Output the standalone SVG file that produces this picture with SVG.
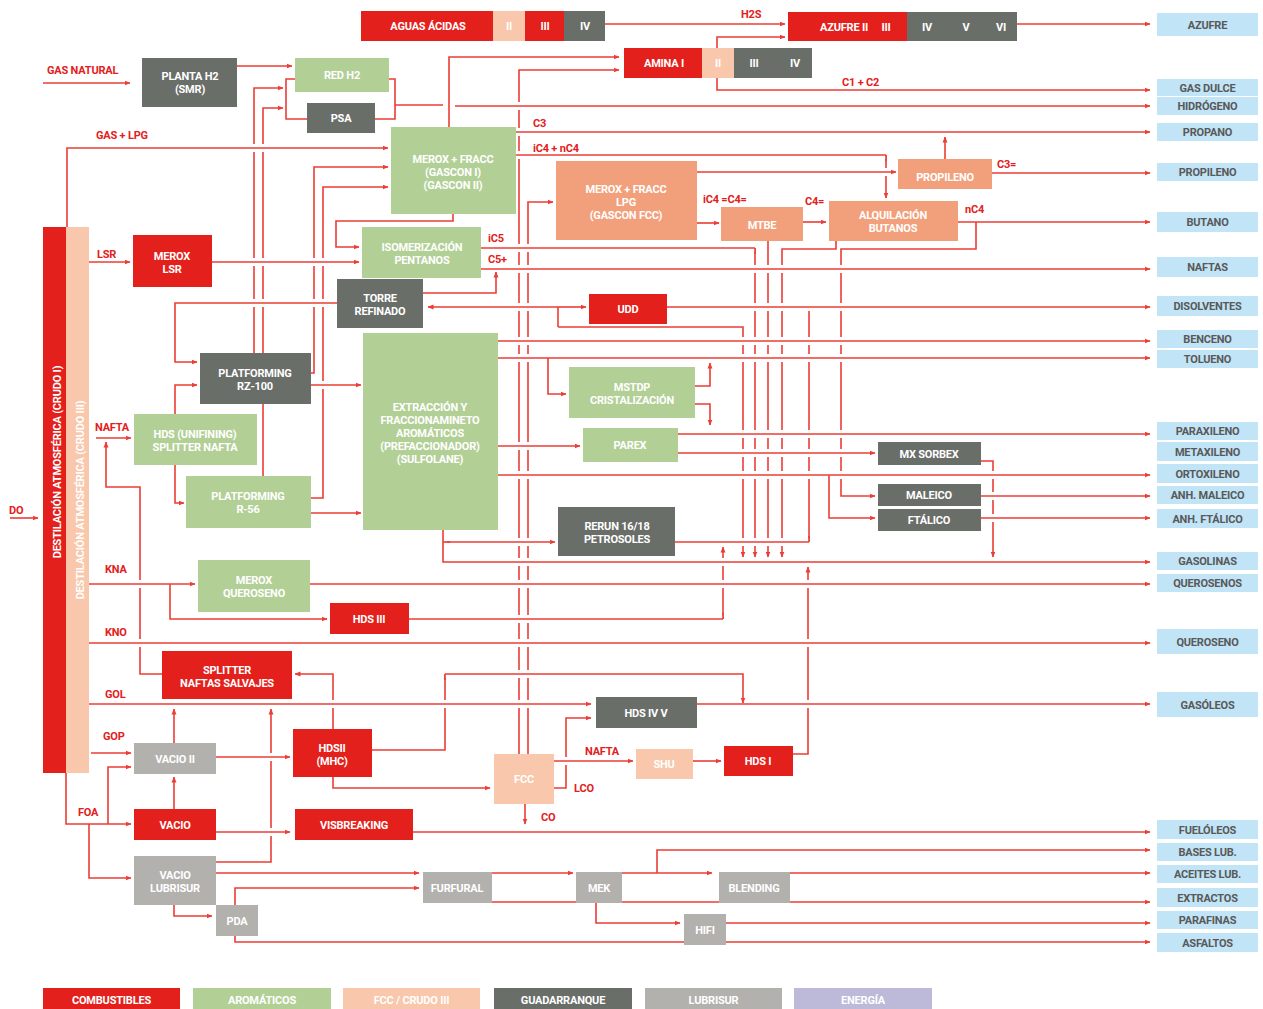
<svg xmlns="http://www.w3.org/2000/svg" width="1263" height="1009" viewBox="0 0 1263 1009">
<style>
text{font-family:Roboto,"Liberation Sans",Arial,sans-serif;font-weight:700;font-size:11px;letter-spacing:-0.2px}
.nt{fill:#fff;text-anchor:middle}
.pt{fill:#595959;text-anchor:middle}
.lb{fill:#e3201b}
.ln{fill:none;stroke:#ec3d36;stroke-width:1.6}
.ar{marker-end:url(#ah)}
.halo{fill:none;stroke:#fff;stroke-width:8}
.r{fill:#e3201b}.g{fill:#b2cf96}.p{fill:#f9c7ab}.s{fill:#f2a07b}.d{fill:#6a6e69}.l{fill:#b3b1ad}.b{fill:#c1e4f6}.v{fill:#bdb9d8}
</style>
<defs>
<marker id="ah" viewBox="0 0 6 6" refX="5.5" refY="3" markerWidth="6" markerHeight="6" markerUnits="userSpaceOnUse" orient="auto"><path d="M0,0.5 L6,3 L0,5.5z" fill="#ec3d36"/></marker>
</defs>
<rect width="1263" height="1009" fill="#fff"/>

<g id="connectors">
<g id="under">
<path class="ln ar" d="M254,353 V88 H283"/>
<path class="ln ar" d="M263,476 V108 H283"/>
<path class="ln ar" d="M311,373 H314 V167 H388"/>
<path class="ln ar" d="M311,498 H323 V187 H388"/>
<path class="ln ar" d="M519,754 V70 H619"/>
<path class="ln ar" d="M528,754 V202 H553"/>
<path class="ln ar" d="M755,248 V557"/>
<path class="ln ar" d="M768,241 V557"/>
<path class="ln ar" d="M836,241 V249 H782 V557"/>
<path class="ln ar" d="M976,222 V249 H841 V496 H875"/>
<path class="ln ar" d="M558,327 H743 V557"/>
<path class="ln" d="M809,542 V311"/>
<path class="ln ar" d="M981,461 H993 V557"/>
<path class="ln ar" d="M723,619 V547"/>
<path class="ln ar" d="M793,754 H808 V567"/>
<path class="ln" d="M372,750 H445 V674"/>
<path class="ln ar" d="M333,729 V674 H295"/>
<path class="ln ar" d="M554,788 H566 V718 H591"/>
<path class="ln ar" d="M162,674 H140 V487 H106 V442"/>
<path class="ln ar" d="M216,862 H271 V709"/>
<path class="ln ar" d="M886,155 V198"/>
</g>
<g id="over">
<path class="halo" d="M455,106 H1150"/><path class="ln ar" d="M455,106 H1150"/>
<path class="halo" d="M67,235 V148 H388"/><path class="ln ar" d="M67,235 V148 H388"/>
<path class="halo" d="M516,132 H1150"/><path class="ln ar" d="M516,132 H1150"/>
<path class="halo" d="M516,155 H886"/><path class="ln" d="M516,155 H886"/>
<path class="halo" d="M697,172 H896"/><path class="ln ar" d="M697,172 H896"/>
<path class="halo" d="M212,262 H359"/><path class="ln ar" d="M212,262 H359"/>
<path class="halo" d="M481,248 H755"/><path class="ln" d="M481,248 H755"/>
<path class="halo" d="M481,269 H1150"/><path class="ln ar" d="M481,269 H1150"/>
<path class="halo" d="M337,303 H175 V362 H197"/><path class="ln ar" d="M337,303 H175 V362 H197"/>
<path class="halo" d="M558,307 H428"/><path class="ln ar" d="M558,307 H428"/>
<path class="halo" d="M558,307 H586"/><path class="ln ar" d="M558,307 H586"/>
<path class="halo" d="M667,307 H1150"/><path class="ln ar" d="M667,307 H1150"/>
<path class="halo" d="M498,341 H1150"/><path class="ln ar" d="M498,341 H1150"/>
<path class="halo" d="M498,358 H1150"/><path class="ln ar" d="M498,358 H1150"/>
<path class="halo" d="M311,385 H361"/><path class="ln ar" d="M311,385 H361"/>
<path class="halo" d="M498,446 H580"/><path class="ln ar" d="M498,446 H580"/>
<path class="halo" d="M678,434 H1150"/><path class="ln ar" d="M678,434 H1150"/>
<path class="halo" d="M678,453 H875"/><path class="ln ar" d="M678,453 H875"/>
<path class="halo" d="M498,475 H1150"/><path class="ln ar" d="M498,475 H1150"/>
<path class="halo" d="M981,496 H1150"/><path class="ln ar" d="M981,496 H1150"/>
<path class="halo" d="M981,518 H1150"/><path class="ln ar" d="M981,518 H1150"/>
<path class="halo" d="M443,542 H555"/><path class="ln ar" d="M443,542 H555"/>
<path class="halo" d="M443,530 V562 H1150"/><path class="ln ar" d="M443,530 V562 H1150"/>
<path class="halo" d="M675,542 H809"/><path class="ln" d="M675,542 H809"/>
<path class="halo" d="M89,584 H195"/><path class="ln ar" d="M89,584 H195"/>
<path class="halo" d="M310,584 H1150"/><path class="ln ar" d="M310,584 H1150"/>
<path class="halo" d="M409,619 H723"/><path class="ln" d="M409,619 H723"/>
<path class="halo" d="M87,643 H1150"/><path class="ln ar" d="M87,643 H1150"/>
<path class="halo" d="M89,704 H591"/><path class="ln ar" d="M89,704 H591"/>
<path class="halo" d="M697,704 H1150"/><path class="ln ar" d="M697,704 H1150"/>
<path class="halo" d="M445,674 H743 V703"/><path class="ln ar" d="M445,674 H743 V703"/>
<path class="halo" d="M216,757 H290"/><path class="ln ar" d="M216,757 H290"/>
<path class="halo" d="M554,761 H633"/><path class="ln ar" d="M554,761 H633"/>
<path class="halo" d="M216,832 H290"/><path class="ln ar" d="M216,832 H290"/>
<path class="halo" d="M413,832 H1150"/><path class="ln ar" d="M413,832 H1150"/>
<path class="halo" d="M333,777 V788 H490"/><path class="ln ar" d="M333,777 V788 H490"/>
</g>
<g id="top">
<path class="ln ar" d="M43,83 H130"/>
<path class="ln ar" d="M237,66 H292"/>
<path class="ln" d="M295,79 H286 V119 H307"/>
<path class="ln" d="M389,79 H395 V119 H375"/>
<path class="ln" d="M395,105 H443"/>
<path class="ln ar" d="M605,24 H785"/>
<path class="ln ar" d="M1017,24 H1150"/>
<path class="ln ar" d="M449,127 V57 H619"/>
<path class="ln ar" d="M717,48 V37 H785"/>
<path class="ln ar" d="M717,78 V90 H1150"/>
<path class="ln ar" d="M992,173 H1150"/>
<path class="ln ar" d="M945,159 V137"/>
<path class="ln ar" d="M697,223 H719"/>
<path class="ln ar" d="M803,222 H826"/>
<path class="ln ar" d="M958,222 H1150"/>
<path class="ln ar" d="M89,262 H130"/>
<path class="ln ar" d="M453,214 V221 H336 V247 H359"/>
<path class="ln ar" d="M423,293 H496 V272"/>
<path class="ln" d="M558,307 V327"/>
<path class="ln ar" d="M548,358 V394 H566"/>
<path class="ln" d="M755,248 V254"/>
<path class="ln" d="M886,155 V161"/>
<path class="ln" d="M723,619 V613"/>
<path class="ln" d="M809,542 V536"/>
<path class="ln" d="M445,674 V680"/>
<path class="ln" d="M443,542 H450"/>
<path class="ln ar" d="M175,414 V385 H197"/>
<path class="ln ar" d="M175,465 V503 H184"/>
<path class="ln ar" d="M311,513 H361"/>
<path class="ln ar" d="M695,386 H710 V363"/>
<path class="ln ar" d="M695,404 H710 V425"/>
<path class="ln ar" d="M829,475 V518 H875"/>
<path class="ln ar" d="M10,518 H38"/>
<path class="ln ar" d="M96,438 H131"/>
<path class="ln ar" d="M170,584 V619 H327"/>
<path class="ln ar" d="M91,753 H131"/>
<path class="ln ar" d="M693,761 H721"/>
<path class="ln ar" d="M525,804 V824"/>
<path class="ln ar" d="M66,773 V824 H131"/>
<path class="ln ar" d="M108,824 V767 H131"/>
<path class="ln ar" d="M89,824 V878 H131"/>
<path class="ln ar" d="M174,809 V777"/>
<path class="ln ar" d="M174,743 V709"/>
<path class="ln ar" d="M174,905 V916 H212"/>
<path class="ln ar" d="M235,905 V888 H419"/>
<path class="ln ar" d="M235,936 V942 H1150"/>
<path class="ln ar" d="M216,873 H419"/>
<path class="ln ar" d="M492,873 H573"/>
<path class="ln ar" d="M622,873 H712"/>
<path class="ln ar" d="M790,873 H1150"/>
<path class="ln ar" d="M492,902 H1150"/>
<path class="ln ar" d="M657,873 V850 H1150"/>
<path class="ln ar" d="M596,903 V923 H680"/>
<path class="ln ar" d="M726,923 H1150"/>
</g>
</g>

<g id="labels">
<text class="lb" x="47" y="74">GAS NATURAL</text>
<text class="lb" x="96" y="139">GAS + LPG</text>
<text class="lb" x="97" y="258">LSR</text>
<text class="lb" x="95" y="431">NAFTA</text>
<text class="lb" x="105" y="573">KNA</text>
<text class="lb" x="105" y="636">KNO</text>
<text class="lb" x="105" y="698">GOL</text>
<text class="lb" x="103" y="740">GOP</text>
<text class="lb" x="78" y="816">FOA</text>
<text class="lb" x="9" y="514">DO</text>
<text class="lb" x="741" y="18">H2S</text>
<text class="lb" x="842" y="86">C1 + C2</text>
<text class="lb" x="533" y="127">C3</text>
<text class="lb" x="533" y="152">iC4 + nC4</text>
<text class="lb" x="488" y="242">iC5</text>
<text class="lb" x="488" y="263">C5+</text>
<text class="lb" x="703" y="203">iC4 =C4=</text>
<text class="lb" x="805" y="205">C4=</text>
<text class="lb" x="997" y="168">C3=</text>
<text class="lb" x="965" y="213">nC4</text>
<text class="lb" x="585" y="755">NAFTA</text>
<text class="lb" x="574" y="792">LCO</text>
<text class="lb" x="541" y="821">CO</text>
</g>

<g id="n-crudo1"><rect class="r" x="43" y="227" width="23" height="546"/><text class="nt" font-size="10.5" transform="translate(61,462) rotate(-90)">DESTILACIÓN ATMOSFÉRICA (CRUDO I)</text></g>
<g id="n-crudo3"><rect class="p" x="66" y="227" width="23" height="546"/><text class="nt" font-size="10.5" transform="translate(84,500) rotate(-90)">DESTILACIÓN ATMOSFÉRICA (CRUDO III)</text></g>

<g id="n-aguas">
<rect class="r" x="361" y="11" width="132" height="30"/><text class="nt" x="428" y="30">AGUAS ÁCIDAS</text>
<rect class="p" x="493" y="11" width="32" height="30"/><text class="nt" x="509" y="30">II</text>
<rect class="r" x="525" y="11" width="39" height="30"/><text class="nt" x="545" y="30">III</text>
<rect class="d" x="564" y="11" width="41" height="30"/><text class="nt" x="585" y="30">IV</text>
</g>
<g id="n-azufre">
<rect class="r" x="788" y="12" width="119" height="29"/><text class="nt" x="844" y="31">AZUFRE II</text><text class="nt" x="886" y="31">III</text>
<rect class="d" x="907" y="12" width="110" height="29"/><text class="nt" x="927" y="31">IV</text><text class="nt" x="966" y="31">V</text><text class="nt" x="1001" y="31">VI</text>
</g>
<g id="n-amina">
<rect class="r" x="624" y="48" width="78" height="30"/><text class="nt" x="664" y="67">AMINA I</text>
<rect class="p" x="702" y="48" width="32" height="30"/><text class="nt" x="718" y="67">II</text>
<rect class="d" x="734" y="48" width="78" height="30"/><text class="nt" x="754" y="67">III</text><text class="nt" x="795" y="67">IV</text>
</g>
<g id="n-plantah2"><rect class="d" x="142" y="58" width="95" height="49"/><text class="nt" x="190" y="80">PLANTA H2<tspan x="190" dy="13">(SMR)</tspan></text></g>
<g id="n-redh2"><rect class="g" x="295" y="58" width="94" height="34"/><text class="nt" x="342" y="79">RED H2</text></g>
<g id="n-psa"><rect class="d" x="307" y="103" width="68" height="30"/><text class="nt" x="341" y="122">PSA</text></g>
<g id="n-gascon"><rect class="g" x="391" y="127" width="125" height="87"/><text class="nt" x="453" y="163">MEROX + FRACC<tspan x="453" dy="13">(GASCON I)</tspan><tspan x="453" dy="13">(GASCON II)</tspan></text></g>
<g id="n-gasconfcc"><rect class="s" x="556" y="161" width="141" height="79"/><text class="nt" x="626" y="193">MEROX + FRACC<tspan x="626" dy="13">LPG</tspan><tspan x="626" dy="13">(GASCON FCC)</tspan></text></g>
<g id="n-propileno"><rect class="s" x="898" y="159" width="94" height="30"/><text class="nt" x="945" y="181">PROPILENO</text></g>
<g id="n-mtbe"><rect class="s" x="721" y="207" width="82" height="34"/><text class="nt" x="762" y="229">MTBE</text></g>
<g id="n-alquilacion"><rect class="s" x="829" y="201" width="129" height="40"/><text class="nt" x="893" y="219">ALQUILACIÓN<tspan x="893" dy="13">BUTANOS</tspan></text></g>
<g id="n-meroxlsr"><rect class="r" x="133" y="235" width="79" height="52"/><text class="nt" x="172" y="260">MEROX<tspan x="172" dy="13">LSR</tspan></text></g>
<g id="n-isom"><rect class="g" x="362" y="227" width="119" height="51"/><text class="nt" x="422" y="251">ISOMERIZACIÓN<tspan x="422" dy="13">PENTANOS</tspan></text></g>
<g id="n-torre"><rect class="d" x="337" y="279" width="86" height="49"/><text class="nt" x="380" y="302">TORRE<tspan x="380" dy="13">REFINADO</tspan></text></g>
<g id="n-udd"><rect class="r" x="589" y="294" width="78" height="30"/><text class="nt" x="628" y="313">UDD</text></g>
<g id="n-rz100"><rect class="d" x="200" y="353" width="111" height="51"/><text class="nt" x="255" y="377">PLATFORMING<tspan x="255" dy="13">RZ-100</tspan></text></g>
<g id="n-extraccion"><rect class="g" x="363" y="333" width="135" height="197"/><text class="nt" x="430" y="411">EXTRACCIÓN Y<tspan x="430" dy="13">FRACCIONAMINETO</tspan><tspan x="430" dy="13">AROMÁTICOS</tspan><tspan x="430" dy="13">(PREFACCIONADOR)</tspan><tspan x="430" dy="13">(SULFOLANE)</tspan></text></g>
<g id="n-mstdp"><rect class="g" x="569" y="367" width="126" height="51"/><text class="nt" x="632" y="391">MSTDP<tspan x="632" dy="13">CRISTALIZACIÓN</tspan></text></g>
<g id="n-parex"><rect class="g" x="583" y="428" width="95" height="34"/><text class="nt" x="630" y="449">PAREX</text></g>
<g id="n-hdsunif"><rect class="g" x="134" y="414" width="123" height="51"/><text class="nt" x="195" y="438">HDS (UNIFINING)<tspan x="195" dy="13">SPLITTER NAFTA</tspan></text></g>
<g id="n-r56"><rect class="g" x="186" y="476" width="125" height="52"/><text class="nt" x="248" y="500">PLATFORMING<tspan x="248" dy="13">R-56</tspan></text></g>
<g id="n-rerun"><rect class="d" x="558" y="507" width="117" height="49"/><text class="nt" x="617" y="530">RERUN 16/18<tspan x="617" dy="13">PETROSOLES</tspan></text></g>
<g id="n-mxsorbex"><rect class="d" x="878" y="442" width="103" height="23"/><text class="nt" x="929" y="458">MX SORBEX</text></g>
<g id="n-maleico"><rect class="d" x="878" y="484" width="103" height="22"/><text class="nt" x="929" y="499">MALEICO</text></g>
<g id="n-ftalico"><rect class="d" x="878" y="509" width="103" height="22"/><text class="nt" x="929" y="524">FTÁLICO</text></g>
<g id="n-meroxquero"><rect class="g" x="198" y="560" width="112" height="52"/><text class="nt" x="254" y="584">MEROX<tspan x="254" dy="13">QUEROSENO</tspan></text></g>
<g id="n-hds3"><rect class="r" x="330" y="603" width="79" height="31"/><text class="nt" x="369" y="623">HDS III</text></g>
<g id="n-splitter"><rect class="r" x="162" y="651" width="130" height="48"/><text class="nt" x="227" y="674">SPLITTER<tspan x="227" dy="13">NAFTAS SALVAJES</tspan></text></g>
<g id="n-hds45"><rect class="d" x="596" y="697" width="101" height="31"/><text class="nt" x="646" y="717">HDS IV  V</text></g>
<g id="n-vacio2"><rect class="l" x="134" y="743" width="82" height="31"/><text class="nt" x="175" y="763">VACIO II</text></g>
<g id="n-hds2"><rect class="r" x="293" y="729" width="79" height="48"/><text class="nt" x="332" y="752">HDSII<tspan x="332" dy="13">(MHC)</tspan></text></g>
<g id="n-fcc"><rect class="p" x="494" y="754" width="60" height="50"/><text class="nt" x="524" y="783">FCC</text></g>
<g id="n-shu"><rect class="p" x="636" y="749" width="57" height="30"/><text class="nt" x="664" y="768">SHU</text></g>
<g id="n-hds1"><rect class="r" x="724" y="746" width="69" height="30"/><text class="nt" x="758" y="765">HDS I</text></g>
<g id="n-vacio"><rect class="r" x="134" y="809" width="82" height="31"/><text class="nt" x="175" y="829">VACIO</text></g>
<g id="n-visbreaking"><rect class="r" x="295" y="809" width="118" height="31"/><text class="nt" x="354" y="829">VISBREAKING</text></g>
<g id="n-vaciolub"><rect class="l" x="134" y="856" width="82" height="49"/><text class="nt" x="175" y="879">VACIO<tspan x="175" dy="13">LUBRISUR</tspan></text></g>
<g id="n-furfural"><rect class="l" x="423" y="872" width="69" height="31"/><text class="nt" x="457" y="892">FURFURAL</text></g>
<g id="n-mek"><rect class="l" x="576" y="872" width="46" height="31"/><text class="nt" x="599" y="892">MEK</text></g>
<g id="n-blending"><rect class="l" x="719" y="872" width="71" height="31"/><text class="nt" x="754" y="892">BLENDING</text></g>
<g id="n-pda"><rect class="l" x="216" y="905" width="42" height="31"/><text class="nt" x="237" y="925">PDA</text></g>
<g id="n-hifi"><rect class="l" x="684" y="914" width="42" height="31"/><text class="nt" x="705" y="934">HIFI</text></g>

<g id="products">
<g id="p-azufre"><rect class="b" x="1157" y="13" width="101" height="23"/><text class="pt" x="1207.5" y="28.5">AZUFRE</text></g>
<g id="p-gasdulce"><rect class="b" x="1157" y="79" width="101" height="17"/><text class="pt" x="1207.5" y="91.5">GAS DULCE</text></g>
<g id="p-hidrogeno"><rect class="b" x="1157" y="97" width="101" height="18"/><text class="pt" x="1207.5" y="110">HIDRÓGENO</text></g>
<g id="p-propano"><rect class="b" x="1157" y="123" width="101" height="18"/><text class="pt" x="1207.5" y="136">PROPANO</text></g>
<g id="p-propileno"><rect class="b" x="1157" y="163" width="101" height="18"/><text class="pt" x="1207.5" y="176">PROPILENO</text></g>
<g id="p-butano"><rect class="b" x="1157" y="212" width="101" height="20"/><text class="pt" x="1207.5" y="226">BUTANO</text></g>
<g id="p-naftas"><rect class="b" x="1157" y="257" width="101" height="20"/><text class="pt" x="1207.5" y="271">NAFTAS</text></g>
<g id="p-disolventes"><rect class="b" x="1157" y="296" width="101" height="20"/><text class="pt" x="1207.5" y="310">DISOLVENTES</text></g>
<g id="p-benceno"><rect class="b" x="1157" y="330" width="101" height="18"/><text class="pt" x="1207.5" y="343">BENCENO</text></g>
<g id="p-tolueno"><rect class="b" x="1157" y="350" width="101" height="18"/><text class="pt" x="1207.5" y="363">TOLUENO</text></g>
<g id="p-paraxileno"><rect class="b" x="1157" y="422" width="101" height="18"/><text class="pt" x="1207.5" y="435">PARAXILENO</text></g>
<g id="p-metaxileno"><rect class="b" x="1157" y="442" width="101" height="19"/><text class="pt" x="1207.5" y="455.5">METAXILENO</text></g>
<g id="p-ortoxileno"><rect class="b" x="1157" y="464" width="101" height="19"/><text class="pt" x="1207.5" y="477.5">ORTOXILENO</text></g>
<g id="p-maleico"><rect class="b" x="1157" y="486" width="101" height="18"/><text class="pt" x="1207.5" y="499">ANH. MALEICO</text></g>
<g id="p-ftalico"><rect class="b" x="1157" y="509" width="101" height="19"/><text class="pt" x="1207.5" y="522.5">ANH. FTÁLICO</text></g>
<g id="p-gasolinas"><rect class="b" x="1157" y="552" width="101" height="18"/><text class="pt" x="1207.5" y="565">GASOLINAS</text></g>
<g id="p-querosenos"><rect class="b" x="1157" y="574" width="101" height="18"/><text class="pt" x="1207.5" y="587">QUEROSENOS</text></g>
<g id="p-queroseno"><rect class="b" x="1157" y="629" width="101" height="25"/><text class="pt" x="1207.5" y="645.5">QUEROSENO</text></g>
<g id="p-gasoleos"><rect class="b" x="1157" y="692" width="101" height="25"/><text class="pt" x="1207.5" y="708.5">GASÓLEOS</text></g>
<g id="p-fueloleos"><rect class="b" x="1157" y="820" width="101" height="19"/><text class="pt" x="1207.5" y="833.5">FUELÓLEOS</text></g>
<g id="p-baseslub"><rect class="b" x="1157" y="843" width="101" height="18"/><text class="pt" x="1207.5" y="856">BASES LUB.</text></g>
<g id="p-aceiteslub"><rect class="b" x="1157" y="865" width="101" height="18"/><text class="pt" x="1207.5" y="878">ACEITES LUB.</text></g>
<g id="p-extractos"><rect class="b" x="1157" y="888" width="101" height="19"/><text class="pt" x="1207.5" y="901.5">EXTRACTOS</text></g>
<g id="p-parafinas"><rect class="b" x="1157" y="911" width="101" height="18"/><text class="pt" x="1207.5" y="924">PARAFINAS</text></g>
<g id="p-asfaltos"><rect class="b" x="1157" y="933" width="101" height="19"/><text class="pt" x="1207.5" y="946.5">ASFALTOS</text></g>
</g>

<g id="legend">
<rect class="r" x="43" y="988" width="137" height="21"/><text class="nt" x="111.5" y="1004">COMBUSTIBLES</text>
<rect class="g" x="193" y="988" width="138" height="21"/><text class="nt" x="262" y="1004">AROMÁTICOS</text>
<rect class="p" x="343" y="988" width="137" height="21"/><text class="nt" x="411.5" y="1004">FCC / CRUDO III</text>
<rect class="d" x="494" y="988" width="138" height="21"/><text class="nt" x="563" y="1004">GUADARRANQUE</text>
<rect class="l" x="645" y="988" width="137" height="21"/><text class="nt" x="713.5" y="1004">LUBRISUR</text>
<rect class="v" x="794" y="988" width="138" height="21"/><text class="nt" x="863" y="1004">ENERGÍA</text>
</g>
</svg>
